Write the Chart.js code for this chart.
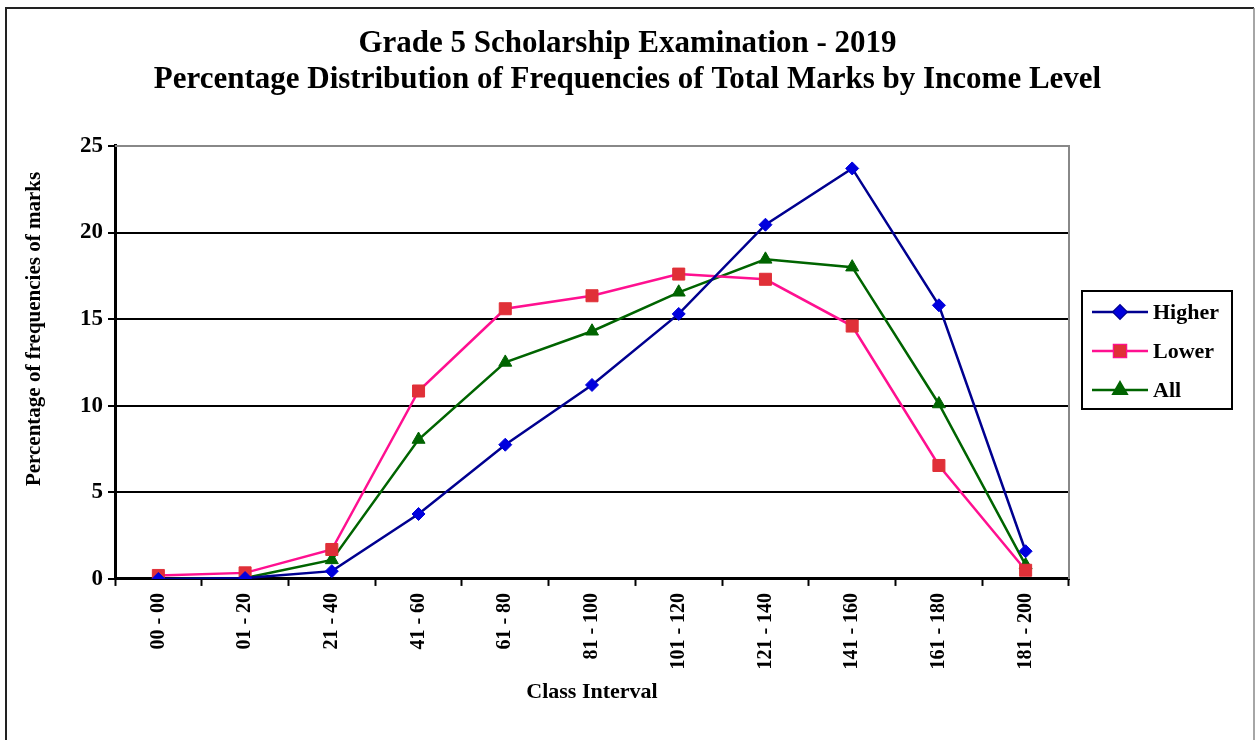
<!DOCTYPE html>
<html>
<head>
<meta charset="utf-8">
<script src="https://cdn.jsdelivr.net/npm/chart.js@4"></script>
<style>
html,body{margin:0;padding:0;background:#fff;}
#wrap{width:1255px;height:740px;position:relative;}
</style>
</head>
<body>
<div id="wrap"><canvas id="c" width="1255" height="740"></canvas></div>
<script>
const categories = ['00 - 00','01 - 20','21 - 40','41 - 60','61 - 80','81 - 100','101 - 120','121 - 140','141 - 160','161 - 180','181 - 200'];
const higher = [0.0, 0.05, 0.45, 3.75, 7.75, 11.2, 15.3, 20.45, 23.7, 15.8, 1.6];
const lower  = [0.2, 0.35, 1.7, 10.85, 15.6, 16.35, 17.6, 17.3, 14.6, 6.55, 0.5];
const all    = [0.0, 0.05, 1.1, 8.05, 12.5, 14.3, 16.55, 18.45, 18.0, 10.1, 0.8];
const yTicks = [0, 5, 10, 15, 20, 25];
const titleLines = ['Grade 5 Scholarship Examination - 2019', 'Percentage Distribution of Frequencies of Total Marks by Income Level'];
const yTitle = 'Percentage of frequencies of marks';
const xTitle = 'Class Interval';

const SERIF = '"Liberation Serif", "Times New Roman", serif';

const decorPlugin = {
  id: 'decor',
  beforeDraw(chart) {
    const ctx = chart.ctx;
    ctx.save();
    ctx.fillStyle = '#fff';
    ctx.fillRect(0, 0, chart.width, chart.height);
    ctx.strokeStyle = '#222';
    ctx.lineWidth = 2;
    ctx.beginPath();
    ctx.moveTo(6, 740); ctx.lineTo(6, 8); ctx.lineTo(1254, 8);
    ctx.stroke();
    ctx.strokeStyle = '#888';
    ctx.lineWidth = 1.5;
    ctx.beginPath();
    ctx.moveTo(1254, 8); ctx.lineTo(1254, 740);
    ctx.stroke();
    ctx.restore();
  },
  afterDraw(chart) {
    const ctx = chart.ctx;
    const a = chart.chartArea;
    // y axis title
    ctx.save();
    ctx.fillStyle = '#000';
    ctx.font = 'bold 21px ' + SERIF;
    ctx.textAlign = 'center';
    ctx.textBaseline = 'middle';
    ctx.translate(35, 329);
    ctx.rotate(-Math.PI / 2);
    ctx.fillText(yTitle, 0, 0);
    ctx.restore();

    // legend
    ctx.save();
    const lx = 1082, ly = 291, lw = 150, lh = 118;
    ctx.fillStyle = '#fff';
    ctx.fillRect(lx, ly, lw, lh);
    ctx.strokeStyle = '#000';
    ctx.lineWidth = 2;
    ctx.strokeRect(lx, ly, lw, lh);
    chart.data.datasets.forEach((ds, i) => {
      const y = 312 + i * 39;
      ctx.strokeStyle = ds.borderColor;
      ctx.lineWidth = ds.borderWidth;
      ctx.beginPath();
      ctx.moveTo(1092, y); ctx.lineTo(1148, y);
      ctx.stroke();
      Chart.helpers.drawPoint(ctx, {
        pointStyle: ds.pointStyle, radius: ds.pointRadius, borderWidth: 1, rotation: 0
      }, 1120, y);
      ctx.fillStyle = ds.pointBackgroundColor;
      ctx.fill();
      ctx.fillStyle = '#000';
      ctx.font = 'bold 22px ' + SERIF;
      ctx.textAlign = 'left';
      ctx.textBaseline = 'middle';
      ctx.fillText(ds.label, 1153, y + 1);
    });
    ctx.restore();

    // plot frame top/right in gray
    ctx.save();
    ctx.strokeStyle = '#888';
    ctx.lineWidth = 2;
    ctx.beginPath();
    ctx.moveTo(a.left, a.top); ctx.lineTo(a.right, a.top); ctx.lineTo(a.right, a.bottom);
    ctx.stroke();
    ctx.restore();
  }
};

function ds(label, data, line, fill, style, r) {
  return {
    label, data,
    borderColor: line, borderWidth: 2.5,
    pointStyle: style, pointRadius: r, pointHoverRadius: r,
    pointBackgroundColor: fill, pointBorderColor: fill, pointBorderWidth: 1,
    fill: false, tension: 0
  };
}

new Chart(document.getElementById('c'), {
  type: 'line',
  data: {
    labels: categories,
    datasets: [
      ds('Higher', higher, '#000090', '#0000DD', 'rectRot', 6.5),
      ds('Lower', lower, '#FF1090', '#E03038', 'rect', 8.5),
      ds('All', all, '#006400', '#006400', 'triangle', 7.5)
    ]
  },
  plugins: [decorPlugin],
  options: {
    responsive: false,
    animation: false,
    devicePixelRatio: 1,
    layout: { padding: { left: 0, right: 0, top: 0, bottom: 34 } },
    plugins: {
      legend: { display: false },
      tooltip: { enabled: false },
      title: {
        display: true,
        text: titleLines,
        color: '#000',
        font: { family: SERIF, size: 31, weight: 'bold', lineHeight: 1.16 },
        padding: { top: 26, bottom: 48 }
      }
    },
    scales: {
      x: {
        type: 'category',
        offset: true,
        grid: { offset: true, drawOnChartArea: false, drawTicks: true, tickLength: 7, tickWidth: 2, tickColor: '#000' },
        border: { display: true, color: '#000', width: 3 },
        ticks: {
          color: '#000', font: { family: SERIF, size: 20, weight: 'bold' },
          maxRotation: 90, minRotation: 90, padding: 7, autoSkip: false
        },
        title: {
          display: true, text: xTitle, color: '#000',
          font: { family: SERIF, size: 22, weight: 'bold' }, padding: { top: 3, bottom: 0 }
        }
      },
      y: {
        min: 0, max: 25,
        afterFit(scale) { scale.width = 115; },
        afterBuildTicks(scale) { scale.ticks = yTicks.map(v => ({ value: v })); },
        grid: {
          color: (c) => (c.tick && c.tick.value === 25) ? '#888' : '#000',
          lineWidth: 2, tickLength: 7, tickColor: '#000', tickWidth: 2
        },
        border: { display: true, color: '#000', width: 3 },
        ticks: {
          color: '#000', font: { family: SERIF, size: 23, weight: 'bold' }, padding: 5
        },
        title: { display: false }
      },
      yRight: {
        position: 'right',
        display: true,
        min: 0, max: 25,
        afterFit(scale) { scale.width = 186; },
        grid: { display: false, drawTicks: false },
        border: { display: false },
        ticks: { display: false }
      }
    }
  }
});
</script>
</body>
</html>
